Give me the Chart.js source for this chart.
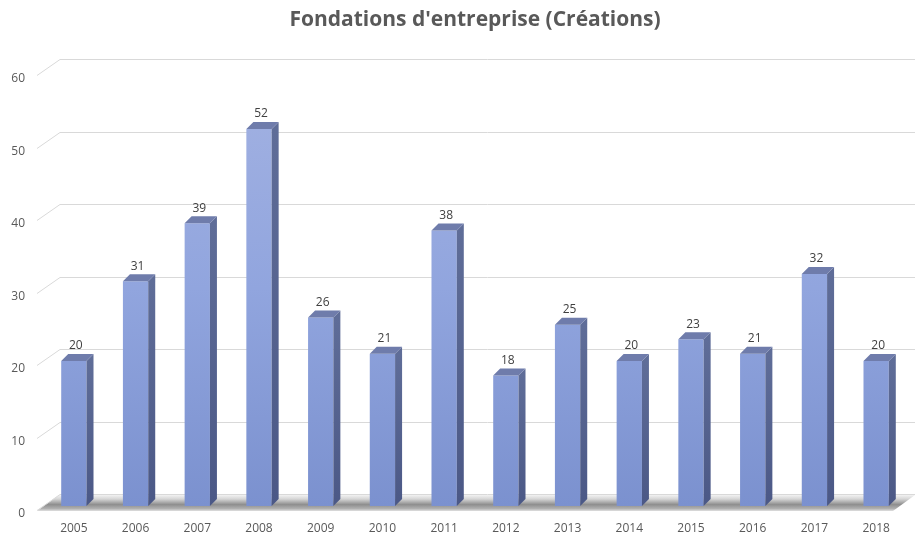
<!DOCTYPE html>
<html>
<head>
<meta charset="utf-8">
<script src="https://cdn.jsdelivr.net/npm/chart.js@4"></script>
<style>
  html, body { margin: 0; padding: 0; background: #fff; }
  #wrap { width: 915px; height: 538px; }
</style>
</head>
<body>
<div id="wrap"><canvas id="chart"></canvas></div>
<script>
const years = ['2005', '2006', '2007', '2008', '2009', '2010', '2011', '2012', '2013', '2014', '2015', '2016', '2017', '2018'];
const creations = [20, 31, 39, 52, 26, 21, 38, 18, 25, 20, 23, 21, 32, 20];
const yTicks = [0, 10, 20, 30, 40, 50, 60];

const DX = 7, DY = -7; // bar depth

// back wall gridlines + floor, drawn behind the bars
const wallPlugin = {
    id: 'wall',
    beforeDatasetsDraw(chart) {
        const ctx = chart.ctx;
        const y = chart.scales.y;
        const w = chart.width;
        ctx.save();
        // floor
        const y0 = y.getPixelForValue(0);
        const g = ctx.createLinearGradient(0, y0 - 11, 0, y0 + 5);
        g.addColorStop(0, '#f2f2f2');
        g.addColorStop(0.25, '#d6d6d6');
        g.addColorStop(0.6, '#8e8e8e');
        g.addColorStop(0.85, '#b0b0b0');
        g.addColorStop(1, '#e0e0e0');
        ctx.fillStyle = g;
        ctx.beginPath();
        ctx.moveTo(37, y0 + 5);
        ctx.lineTo(w - 22, y0 + 5);
        ctx.lineTo(w, y0 - 11);
        ctx.lineTo(59, y0 - 11);
        ctx.closePath();
        ctx.fill();
        // gridlines
        ctx.strokeStyle = '#d9d9d9';
        ctx.lineWidth = 1;
        yTicks.forEach(v => {
            const py = Math.round(y.getPixelForValue(v)) + 0.5;
            ctx.beginPath();
            ctx.moveTo(37, py + 4);
            ctx.lineTo(60, py - 12);
            ctx.lineTo(w, py - 12);
            ctx.stroke();
        });
        ctx.restore();
    }
};

// side and top faces of the bars, plus value labels
const depthPlugin = {
    id: 'depth',
    afterDatasetsDraw(chart) {
        const ctx = chart.ctx;
        const meta = chart.getDatasetMeta(0);
        ctx.save();
        meta.data.forEach((bar, i) => {
            const half = bar.width / 2;
            const x0 = bar.x - half, x1 = bar.x + half;
            const top = bar.y, base = bar.base;
            // side
            const sg = ctx.createLinearGradient(0, top, 0, base);
            sg.addColorStop(0, '#5f6d98');
            sg.addColorStop(1, '#4b5886');
            ctx.fillStyle = sg;
            ctx.beginPath();
            ctx.moveTo(x1, top);
            ctx.lineTo(x1 + DX, top + DY);
            ctx.lineTo(x1 + DX, base + DY);
            ctx.lineTo(x1, base);
            ctx.closePath();
            ctx.fill();
            // top
            ctx.fillStyle = '#6f7cab';
            ctx.beginPath();
            ctx.moveTo(x0, top);
            ctx.lineTo(x1, top);
            ctx.lineTo(x1 + DX, top + DY);
            ctx.lineTo(x0 + DX, top + DY);
            ctx.closePath();
            ctx.fill();
            // value
            ctx.fillStyle = '#404040';
            ctx.font = '12px "Open Sans"';
            ctx.textAlign = 'center';
            ctx.textBaseline = 'middle';
            ctx.fillText(String(creations[i]), bar.x + 2, top - 15);
        });
        ctx.restore();
    }
};

new Chart(document.getElementById('chart'), {
    type: 'bar',
    data: {
        labels: years,
        datasets: [{
            label: 'Créations',
            data: creations,
            backgroundColor(c) {
                const area = c.chart.chartArea;
                if (!area) return '#8a9dd6';
                const g = c.chart.ctx.createLinearGradient(0, area.top, 0, area.bottom);
                g.addColorStop(0, '#a3b2e2');
                g.addColorStop(0.5, '#91a5de');
                g.addColorStop(1, '#7b91cf');
                return g;
            },
            borderWidth: 0,
            categoryPercentage: 1,
            barPercentage: 0.41
        }]
    },
    options: {
        responsive: true,
        maintainAspectRatio: false,
        animation: false,
        layout: { padding: { top: 0, right: 8, left: 0, bottom: 0 } },
        plugins: {
            legend: { display: false },
            tooltip: { enabled: false },
            title: {
                display: true,
                fullSize: false,
                text: "Fondations d'entreprise (Créations)",
                color: '#595959',
                font: { family: '"Open Sans"', size: 21, weight: 'bold', lineHeight: 1.2 },
                padding: { top: 7, bottom: 38.8 }
            }
        },
        scales: {
            x: {
                grid: { display: false, drawTicks: false },
                border: { display: false },
                ticks: { color: '#595959', font: { family: '"Open Sans"', size: 12 }, padding: 15 },
                afterFit(scale) { scale.height = 32; }
            },
            y: {
                min: 0,
                max: 60,
                grid: { display: false, drawTicks: false },
                border: { display: false },
                ticks: { stepSize: 10, color: '#595959', font: { family: '"Open Sans"', size: 12 }, padding: 18, labelOffset: 8 },
                afterFit(scale) { scale.width = 43; }
            }
        }
    },
    plugins: [wallPlugin, depthPlugin]
});
</script>
</body>
</html>
